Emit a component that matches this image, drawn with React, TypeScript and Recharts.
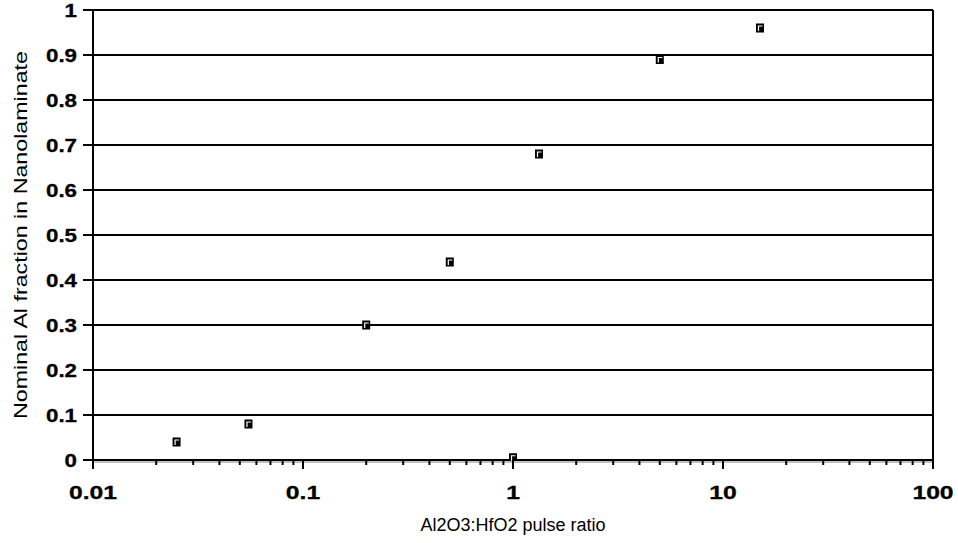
import React from 'react';
import { ScatterChart, Scatter, XAxis, YAxis, CartesianGrid, ReferenceLine } from 'recharts';

const pulseRatio = [0.025, 0.055, 0.2, 0.5, 1, 1.33, 5, 15];
const alFraction = [0.04, 0.08, 0.3, 0.44, 0.005, 0.68, 0.89, 0.96];
const xMajorTicks = [0.01, 0.1, 1, 10, 100];
const xMajorLabels = ['0.01', '0.1', '1', '10', '100'];
const yTicks = [0, 0.1, 0.2, 0.3, 0.4, 0.5, 0.6, 0.7, 0.8, 0.9, 1];
const yTickLabels = ['0', '0.1', '0.2', '0.3', '0.4', '0.5', '0.6', '0.7', '0.8', '0.9', '1'];
const xTitle = 'Al2O3:HfO2 pulse ratio';
const yTitle = 'Nominal Al fraction in Nanolaminate';

const data = pulseRatio.map((x, i) => ({ x, y: alFraction[i] }));

const xAllTicks: number[] = [];
xMajorTicks.forEach((m, i) => {
  xAllTicks.push(m);
  if (i < xMajorTicks.length - 1) {
    for (let k = 2; k <= 9; k++) xAllTicks.push(+(m * k).toPrecision(6));
  }
});

const FONT = '"Liberation Sans", Arial, sans-serif';
const SX = 1.24;

const XTick = (props: any) => {
  const { x, y, payload, index, width } = props;
  const v = payload.value;
  const mi = xMajorTicks.findIndex((m) => Math.abs(m - v) / m < 1e-6);
  const major = mi >= 0;
  return (
    <g>
      {index === 0 && (
        <line x1={x} x2={x + (width || 840)} y1={y + 2} y2={y + 2} stroke="#c0c0c0" strokeWidth={2} />
      )}
      <line x1={x} x2={x} y1={y} y2={y + (major ? 9 : 5)} stroke="#000" strokeWidth={2} />
      {major && (
        <text
          transform={`translate(${x} ${y + 39}) scale(1.3 1)`}
          textAnchor="middle"
          fontWeight="bold"
          fontSize={19}
          fontFamily={FONT}
          fill="#000"
          stroke="#000"
          strokeWidth={0.3}
        >
          {xMajorLabels[mi]}
        </text>
      )}
    </g>
  );
};

const YTick = (props: any) => {
  const { x, y, payload } = props;
  const i = yTicks.findIndex((t) => Math.abs(t - payload.value) < 1e-9);
  return (
    <g>
      <line x1={x - 10} x2={x} y1={y} y2={y} stroke="#000" strokeWidth={2} />
      <text
        transform={`translate(${x - 16} ${y + 7}) scale(${SX} 1)`}
        textAnchor="end"
        fontWeight="bold"
        fontSize={18}
        fontFamily={FONT}
        fill="#000"
        stroke="#000"
        strokeWidth={0.3}
      >
        {i >= 0 ? yTickLabels[i] : ''}
      </text>
    </g>
  );
};

const Marker = (props: any) => {
  const { cx, cy } = props;
  if (cx == null || cy == null) return null;
  return (
    <g>
      <rect x={cx - 4} y={cy - 4.5} width={8} height={9} fill="#000" />
      <path d={`M${cx - 1.5} ${cy + 3} V${cy - 2} H${cx + 2.5}`} stroke="#fff" strokeWidth={1.2} fill="none" />
    </g>
  );
};

const XTitle = (props: any) => {
  const { viewBox } = props;
  const cx = viewBox.x + viewBox.width / 2;
  return (
    <text x={cx} y={531} textAnchor="middle" fontSize={18} fontFamily={FONT} fill="#000">
      {xTitle}
    </text>
  );
};

const YTitle = (props: any) => {
  const { viewBox } = props;
  const cy = viewBox.y + viewBox.height / 2;
  return (
    <text
      x={27}
      y={cy}
      transform={`rotate(-90 27 ${cy})`}
      textAnchor="middle"
      fontSize={18}
      fontFamily={FONT}
      fill="#000"
      textLength={368}
      lengthAdjust="spacingAndGlyphs"
    >
      {yTitle}
    </text>
  );
};

export default function App() {
  return (
    <div style={{ position: 'absolute', left: 0, top: 0, width: 958, height: 543, background: '#fff' }}>
      <ScatterChart width={958} height={543} margin={{ top: 10, right: 25, left: 0, bottom: 0 }}>
        <CartesianGrid horizontal vertical={false} stroke="#000" strokeWidth={2} />
        <XAxis
          dataKey="x"
          type="number"
          scale="log"
          domain={[0.01, 100]}
          ticks={xAllTicks}
          interval={0}
          allowDataOverflow
          height={83}
          tickSize={0}
          tickMargin={0}
          tickLine={false}
          axisLine={{ stroke: '#000', strokeWidth: 2 }}
          tick={<XTick />}
          label={<XTitle />}
        />
        <YAxis
          dataKey="y"
          type="number"
          domain={[0, 1]}
          ticks={yTicks}
          interval={0}
          width={93}
          tickSize={0}
          tickMargin={0}
          tickLine={false}
          axisLine={{ stroke: '#000', strokeWidth: 2 }}
          tick={<YTick />}
          label={<YTitle />}
        />
        <ReferenceLine x={100} stroke="#000" strokeWidth={2} ifOverflow="visible" />
        <Scatter data={data} shape={<Marker />} isAnimationActive={false} />
      </ScatterChart>
    </div>
  );
}
